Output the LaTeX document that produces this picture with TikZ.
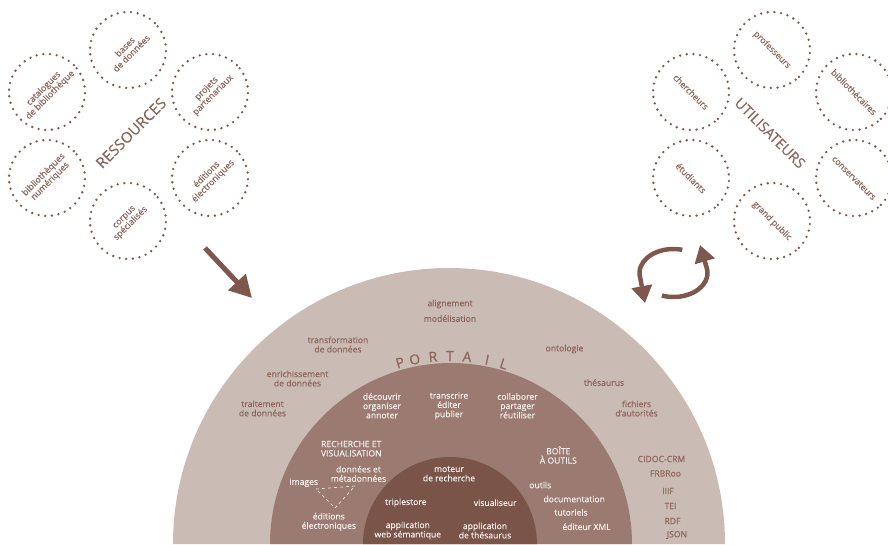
\documentclass[tikz,border=0pt]{standalone}
\usepackage{fontspec}
\setmainfont{Open Sans}[FakeBold=0.25]
\usetikzlibrary{arrows.meta}
\definecolor{anneauext}{HTML}{CBBBB5}
\definecolor{anneaumil}{HTML}{9B7B71}
\definecolor{anneauint}{HTML}{7B5449}
\definecolor{brun}{HTML}{8B655A}
\definecolor{blanc}{HTML}{F7F0ED}
\definecolor{fleche}{HTML}{7E584C}
\tikzset{
	bulle/.style={circle, draw=fleche, line width=2.6pt, line cap=round,
		dash pattern=on 0pt off 6.7pt, minimum size=76pt, inner sep=0pt,
		text=brun, align=center, font=\fontsize{8.8}{9.2}\selectfont},
	titre/.style={text=brun, inner sep=0pt, font=\fontsize{15}{15}\selectfont},
	ext/.style={text=brun, align=center, inner sep=0pt, font=\fontsize{8.6}{9.3}\selectfont},
	int/.style={text=blanc, align=center, inner sep=0pt, font=\fontsize{8.6}{9.3}\selectfont},
	lettre/.style={text=brun, inner sep=0pt, font=\fontsize{14}{14}\selectfont},
	grosse/.style={draw=fleche, line width=5pt, -{Triangle[length=22pt,width=23pt]}},
	tourne/.style={draw=fleche, line width=4.5pt, -{Triangle[length=17pt,width=20pt]}}
}
\begin{document}
\begin{tikzpicture}[x=1pt, y=-1pt]
	\useasboundingbox (0,0) rectangle (888,544);
	% portail
	\fill[anneauext] (173,544) arc[start angle=180, end angle=360, radius=276] -- cycle;
	\fill[anneaumil] (270,544) arc[start angle=180, end angle=360, radius=181] -- cycle;
	\fill[anneauint] (363,544) arc[start angle=180, end angle=360, radius=87] -- cycle;
	\coordinate (centre) at (450,544);
	\foreach \l/\a in {P/105.4, O/100.8, R/95.2, T/90, A/84.8, I/78.6, L/73.4}
		\node[lettre, rotate=\a-90] (lettre\l) at ([shift={(-\a:188)}]centre) {\l};

	% ressources
	\node[bulle, rotate=45] (bases) at (128,50) {bases\\de données};
	\node[bulle, rotate=45] (catalogues) at (47,92) {catalogues\\de bibliothèque};
	\node[bulle, rotate=45] (projets) at (210,92) {projets\\partenariaux};
	\node[bulle, rotate=45] (biblionum) at (47,178) {bibliothèques\\numériques};
	\node[bulle, rotate=45] (editelec) at (210,178) {éditions\\électroniques};
	\node[bulle, rotate=45] (corpus) at (128,221) {corpus\\spécialisés};
	\node[titre, rotate=45] (ressources) at (131,133) {RESSOURCES};

	% utilisateurs
	\node[bulle, rotate=-45] (professeurs) at (772,50) {professeurs};
	\node[bulle, rotate=-45] (chercheurs) at (691,92) {chercheurs};
	\node[bulle, rotate=-45] (bibliothecaires) at (854,92) {bibliothécaires};
	\node[bulle, rotate=-45] (etudiants) at (691,178) {étudiants};
	\node[bulle, rotate=-45] (conservateurs) at (854,178) {conservateurs};
	\node[bulle, rotate=-45] (grandpublic) at (772,221) {grand public};
	\node[titre, rotate=-45, font=\fontsize{14.3}{14.3}\selectfont] (utilisateurs) at (770,133) {UTILISATEURS};

	% fleches
	\coordinate (depart) at (205,248);
	\coordinate (arrivee) at (252,298);
	\draw[grosse] (depart) -- (arrivee);
	\coordinate (cycle) at (673.5,273);
	\coordinate (pointeA) at (645,303);
	\coordinate (pointeB) at (700,245);
	\draw[tourne] ([shift={(-75:34 and 24)}]cycle)
		arc[start angle=-75, end angle=-192, x radius=34, y radius=24] -- (pointeA);
	\draw[tourne] ([shift={(-250:34 and 24)}]cycle)
		arc[start angle=-250, end angle=-372, x radius=34, y radius=24] -- (pointeB);

	% anneau exterieur
	\node[ext] (alignement) at (450,304) {alignement};
	\node[ext] (modelisation) at (450,318.5) {modélisation};
	\node[ext] (transformation) at (338,344.5) {transformation\\de données};
	\node[ext] (enrichissement) at (297.5,378.5) {enrichissement\\de données};
	\node[ext] (traitement) at (262.5,408.5) {traitement\\de données};
	\node[ext] (ontologie) at (564.5,349) {ontologie};
	\node[ext] (thesaurus) at (604,382.5) {thésaurus};
	\node[ext] (fichiers) at (636.5,408.5) {fichiers\\d'autorités};
	\node[ext] (cidoc) at (661.5,459) {CIDOC-CRM};
	\node[ext] (frbroo) at (665.5,473.5) {FRBRoo};
	\node[ext] (iiif) at (668,491) {IIIF};
	\node[ext] (tei) at (670.5,506) {TEI};
	\node[ext] (rdf) at (672.5,521) {RDF};
	\node[ext] (json) at (677,535) {JSON};

	% anneau du milieu
	\node[int] (decouvrir) at (382,405.8) {découvrir\\organiser\\annoter};
	\node[int] (transcrire) at (449,405.8) {transcrire\\éditer\\publier};
	\node[int] (collaborer) at (517.5,405.8) {collaborer\\partager\\réutiliser};
	\node[int] (recherche) at (351.3,448.7) {RECHERCHE ET\\VISUALISATION};
	\node[int] (donnees) at (358.5,473.8) {données et\\métadonnées};
	\node[int] (images) at (303.8,482.7) {images};
	\node[int] (editions) at (328.8,521.8) {éditions\\électroniques};
	\coordinate (tri1) at (316,489);
	\coordinate (tri2) at (355,486);
	\coordinate (tri3) at (335,508);
	\draw[blanc, dashed, line width=0.6pt] (tri1) -- (tri2) -- (tri3) -- cycle;
	\node[int] (boite) at (558.3,455) {BOÎTE\\À OUTILS};
	\node[int] (outils) at (540.3,485) {outils};
	\node[int] (documentation) at (574.2,499) {documentation};
	\node[int] (tutoriels) at (571,512.3) {tutoriels};
	\node[int] (editeur) at (586.5,526.7) {éditeur XML};

	% anneau interieur
	\node[int] (moteur) at (449,473.8) {moteur\\de recherche};
	\node[int] (triplestore) at (405.8,502.7) {triplestore};
	\node[int] (visualiseur) at (495.2,502.7) {visualiseur};
	\node[int] (appweb) at (407.8,530.5) {application\\web sémantique};
	\node[int] (appthes) at (485,530.5) {application\\de thésaurus};
\end{tikzpicture}
\end{document}
